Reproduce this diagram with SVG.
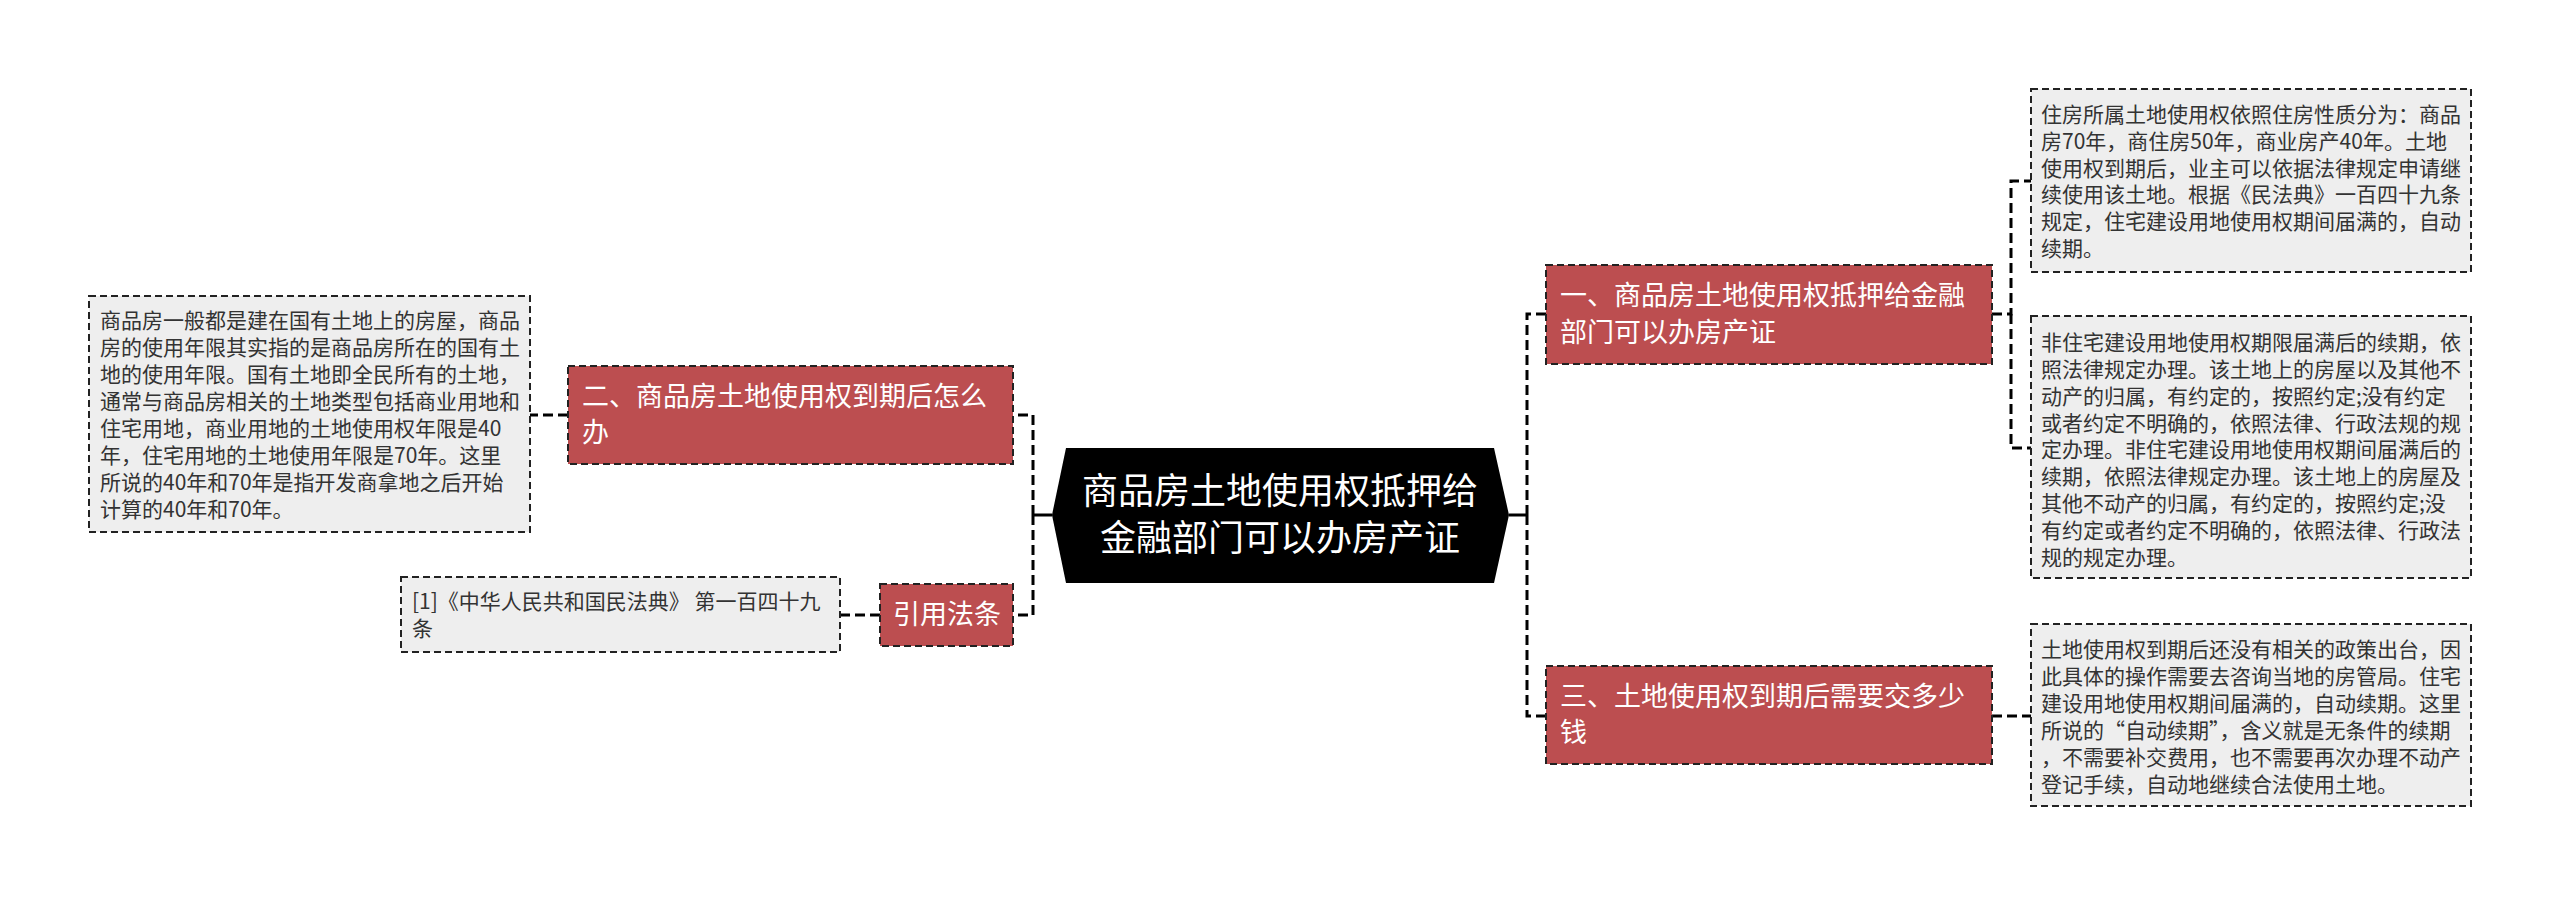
<svg xmlns="http://www.w3.org/2000/svg" width="2560" height="897" viewBox="0 0 2560 897">
<style>
text{font-family:"Noto Sans CJK SC","Liberation Sans",sans-serif}
.leaf rect{fill:#eeeeee;stroke:#222;stroke-width:2;stroke-dasharray:7 4}
.leaf text{font-size:21px;fill:#333}
.main rect{fill:#bc4e50;stroke:#222;stroke-width:2;stroke-dasharray:7 4}
.main text{font-size:27px;fill:#fff}
.root text{font-size:36px;fill:#fff;text-anchor:middle}
#connectors path{fill:none;stroke:#000;stroke-width:3;stroke-dasharray:10 5}
#connectors path.solid{stroke-dasharray:none}
</style>
<rect width="2560" height="897" fill="#fff"/>
<g id="connectors">
<path class="solid" d="M1052 515H1033"/>
<path class="solid" d="M1509 515H1527"/>
<path d="M1033 515V415H1013"/>
<path d="M1033 515V615H1013"/>
<path d="M1527 515V314H1546"/>
<path d="M1527 515V716H1546"/>
<path d="M568 415H530"/>
<path d="M880 615H840"/>
<path d="M1992 314H2011V181H2031"/>
<path d="M2011 314V448H2031"/>
<path d="M1992 716H2031"/>
</g>
<g id="root" class="root">
<polygon points="1066,448 1494,448 1509,515 1494,583 1066,583 1052,515" fill="#000"/>
<text x="1280" y="504">商品房土地使用权抵押给</text>
<text x="1280" y="551">金融部门可以办房产证</text>
</g>
<g id="n1" class="main">
<rect x="1546" y="265" width="446" height="99"/>
<text x="1560" y="305">一、商品房土地使用权抵押给金融</text>
<text x="1560" y="342">部门可以办房产证</text>
</g>
<g id="n2" class="main">
<rect x="568" y="366" width="445" height="98"/>
<text x="582" y="406">二、商品房土地使用权到期后怎么</text>
<text x="582" y="442">办</text>
</g>
<g id="n3" class="main">
<rect x="1546" y="666" width="446" height="98"/>
<text x="1560" y="706">三、土地使用权到期后需要交多少</text>
<text x="1560" y="742">钱</text>
</g>
<g id="n4" class="main">
<rect x="880" y="584" width="133" height="62"/>
<text x="893" y="624">引用法条</text>
</g>
<g id="l2" class="leaf">
<rect x="89" y="296" width="441" height="236"/>
<text x="100" y="328">商品房一般都是建在国有土地上的房屋，商品</text>
<text x="100" y="355">房的使用年限其实指的是商品房所在的国有土</text>
<text x="100" y="382">地的使用年限。国有土地即全民所有的土地，</text>
<text x="100" y="409">通常与商品房相关的土地类型包括商业用地和</text>
<text x="100" y="436">住宅用地，商业用地的土地使用权年限是40</text>
<text x="100" y="463">年，住宅用地的土地使用年限是70年。这里</text>
<text x="100" y="490">所说的40年和70年是指开发商拿地之后开始</text>
<text x="100" y="517">计算的40年和70年。</text>
</g>
<g id="l4" class="leaf">
<rect x="401" y="577" width="439" height="75"/>
<text x="412" y="609">[1]《中华人民共和国民法典》 第一百四十九</text>
<text x="412" y="636">条</text>
</g>
<g id="l1a" class="leaf">
<rect x="2031" y="89" width="440" height="183"/>
<text x="2041" y="122">住房所属土地使用权依照住房性质分为：商品</text>
<text x="2041" y="149">房70年，商住房50年，商业房产40年。土地</text>
<text x="2041" y="176">使用权到期后，业主可以依据法律规定申请继</text>
<text x="2041" y="202">续使用该土地。根据《民法典》一百四十九条</text>
<text x="2041" y="229">规定，住宅建设用地使用权期间届满的，自动</text>
<text x="2041" y="256">续期。</text>
</g>
<g id="l1b" class="leaf">
<rect x="2031" y="316" width="440" height="262"/>
<text x="2041" y="350">非住宅建设用地使用权期限届满后的续期，依</text>
<text x="2041" y="377">照法律规定办理。该土地上的房屋以及其他不</text>
<text x="2041" y="404">动产的归属，有约定的，按照约定;没有约定</text>
<text x="2041" y="431">或者约定不明确的，依照法律、行政法规的规</text>
<text x="2041" y="457">定办理。非住宅建设用地使用权期间届满后的</text>
<text x="2041" y="484">续期，依照法律规定办理。该土地上的房屋及</text>
<text x="2041" y="511">其他不动产的归属，有约定的，按照约定;没</text>
<text x="2041" y="538">有约定或者约定不明确的，依照法律、行政法</text>
<text x="2041" y="565">规的规定办理。</text>
</g>
<g id="l3" class="leaf">
<rect x="2031" y="624" width="440" height="182"/>
<text x="2041" y="657">土地使用权到期后还没有相关的政策出台，因</text>
<text x="2041" y="684">此具体的操作需要去咨询当地的房管局。住宅</text>
<text x="2041" y="711">建设用地使用权期间届满的，自动续期。这里</text>
<text x="2041" y="738">所说的“自动续期”，含义就是无条件的续期</text>
<text x="2041" y="765">，不需要补交费用，也不需要再次办理不动产</text>
<text x="2041" y="792">登记手续，自动地继续合法使用土地。</text>
</g>
</svg>
